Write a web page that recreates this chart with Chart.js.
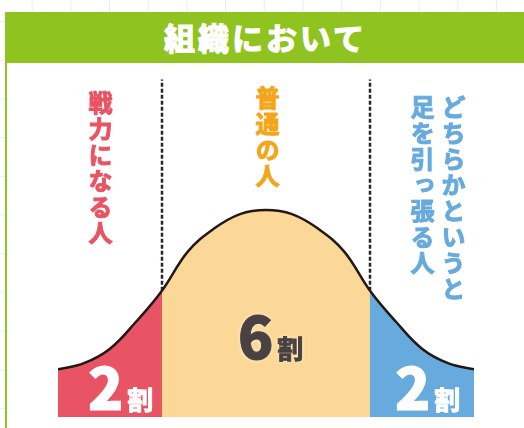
<!DOCTYPE html>
<html lang="ja">
<head>
<meta charset="utf-8">
<script src="https://cdn.jsdelivr.net/npm/chart.js@4"></script>
<style>
  html, body { margin: 0; padding: 0; }
  body {
    width: 524px; height: 428px; overflow: hidden; position: relative;
    background-color: #fff;
    background-image: linear-gradient(to right, #e2f0f0 1px, transparent 1px),
                      linear-gradient(to bottom, #e2f0f0 1px, transparent 1px);
    background-size: 38.7px 38.7px;
    background-position: -7px 21px;
    font-family: "Noto Sans CJK JP", "Noto Sans", sans-serif;
  }
  #panel { position: absolute; left: 5px; top: 63px; right: 0; bottom: 0; background: #fff; border-left: 2px solid #8fc31f; }
  #banner { position: absolute; left: 5px; top: 12px; width: 519px; height: 51px; background: #8fc31f;
    color: #fff; font-weight: bold; font-size: 31px; letter-spacing: 3px; line-height: 51px; text-align: center;
    -webkit-text-stroke: 1.2px #fff; }
  #banner span { position: relative; left: 1px; top: -1px; }
  #wrap { position: absolute; left: 58px; top: 65px; width: 416px; height: 352px; }
  .vt { position: absolute; writing-mode: vertical-rl; text-orientation: upright; font-weight: bold;
    font-size: 24px; letter-spacing: 2px; line-height: 24px; white-space: nowrap;
    -webkit-text-stroke: 1px currentColor; }
  .pct { position: absolute; font-weight: bold; white-space: nowrap; line-height: 1;
    -webkit-text-stroke: 1px currentColor; }
  .pct b { font-size: 58px; }
  .pct i { font-style: normal; font-size: 26px; margin-left: 4px; }
</style>
</head>
<body>
<div id="panel"></div>
<div id="banner"><span>組織において</span></div>
<div id="wrap"><canvas id="chart"></canvas></div>

<div class="vt" style="left:88px; top:91px; color:#e95464;">戦力になる人</div>
<div class="vt" style="left:255px; top:86px; color:#f5a51a;">普通の人</div>
<div class="vt" style="left:407px; top:95px; color:#67aade; line-height:31px;">どちらかというと<br>足を引っ張る人</div>

<div class="pct" style="left:88px; top:356px; color:#fff;"><b>2</b><i>割</i></div>
<div class="pct" style="left:238px; top:305px; color:#4a4142; text-shadow:0 0 4px #fff6e0;"><b>6</b><i>割</i></div>
<div class="pct" style="left:395px; top:356px; color:#fff;"><b>2</b><i>割</i></div>

<script>
// 横軸は標準偏差、縦軸はピークを100とした高さ
var sigma = [-2, -1.75, -1.5, -1.25, -1, -0.75, -0.5, -0.25, 0, 0.25, 0.5, 0.75, 1, 1.25, 1.5, 1.75, 2];
var height = [23, 26, 33, 46, 61, 80, 91, 98, 100, 98, 91, 80, 61, 46, 33, 26, 23];
var boundaries = [-1, 1];
var dividerTop = 163;

var red = '#e95464';
var beige = '#fbd897';
var blue = '#67aade';

var curve = sigma.map(function(x, i) { return { x: x, y: height[i] }; });

function divider(x) {
  var i = sigma.indexOf(x);
  return {
    data: [{ x: x, y: height[i] }, { x: x, y: dividerTop }],
    borderColor: '#2a2626',
    borderWidth: 2.5,
    borderDash: [4, 2],
    pointRadius: 0,
    fill: false,
    order: 2
  };
}

new Chart(document.getElementById('chart').getContext('2d'), {
  type: 'line',
  data: {
    datasets: [
      {
        data: curve,
        borderColor: '#231815',
        borderWidth: 2.5,
        backgroundColor: beige,
        fill: 'origin',
        pointRadius: 0,
        tension: 0.4,
        clip: false,
        order: 1,
        segment: {
          backgroundColor: function(ctx) {
            if (ctx.p1.parsed.x <= boundaries[0]) return red;
            if (ctx.p0.parsed.x >= boundaries[1]) return blue;
            return beige;
          }
        }
      },
      divider(boundaries[0]),
      divider(boundaries[1])
    ]
  },
  options: {
    responsive: true,
    maintainAspectRatio: false,
    animation: false,
    layout: { padding: 0 },
    plugins: { legend: { display: false }, tooltip: { enabled: false } },
    scales: {
      x: { type: 'linear', min: -2, max: 2, display: false },
      y: { min: 0, max: 170, display: false }
    }
  }
});
</script>
</body>
</html>
